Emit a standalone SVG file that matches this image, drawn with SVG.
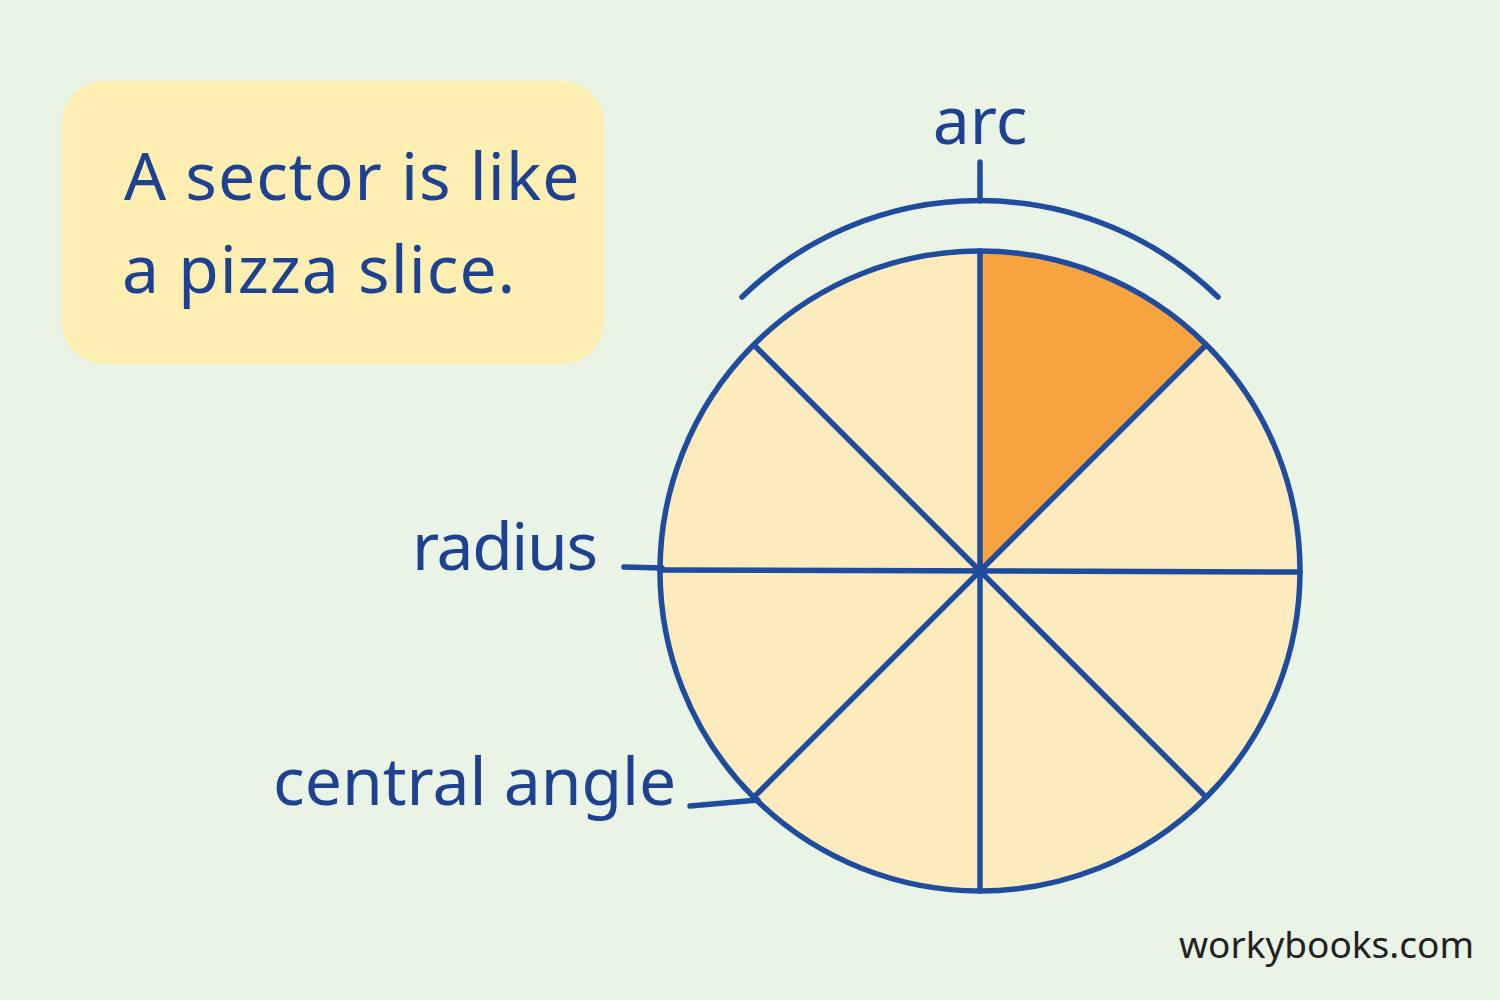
<svg xmlns="http://www.w3.org/2000/svg" width="1500" height="1000" viewBox="0 0 1500 1000">
<style>
.lbl{font-family:"Noto Sans","DejaVu Sans",sans-serif;fill:#1E4190;font-size:66px}
.ln{stroke:#1F4C9C;stroke-width:5.5;fill:none;stroke-linecap:round}
.slice{fill:#FCEBBC}
</style>
<rect width="1500" height="1000" fill="#EAF4E6"/>
<g id="note">
<rect x="62" y="81" width="542" height="283" rx="42" fill="#FDEFB2"/>
<text class="lbl" x="124" y="200" font-size="68" letter-spacing="1">A sector is like</text>
<text class="lbl" x="122" y="293" font-size="68" letter-spacing="1">a pizza slice.</text>
</g>
<g id="circle">
<circle cx="980" cy="571" r="320" class="slice"/>
<path d="M980,571 L980,251 A320,320 0 0 1 1206.3,344.7 Z" fill="#F7A33F"/>
<circle cx="980" cy="571" r="320" class="ln"/>
<line class="ln" x1="660" y1="570" x2="1300" y2="572"/>
<line class="ln" x1="980" y1="251" x2="980" y2="891"/>
<line class="ln" x1="754" y1="345" x2="1206" y2="797"/>
<line class="ln" x1="1206" y1="345" x2="754" y2="797"/>
<circle cx="980" cy="571" r="7" fill="#1F4C9C"/>
</g>
<g id="connectors">
<path class="ln" d="M742,297 A342,342 0 0 1 1218,297"/>
<line class="ln" x1="980" y1="201" x2="980" y2="162"/>
<line class="ln" x1="624" y1="567" x2="662" y2="568"/>
<line class="ln" x1="690" y1="806" x2="758" y2="800"/>
</g>
<g id="labels">
<text class="lbl" x="980" y="144" text-anchor="middle">arc</text>
<text class="lbl" x="412" y="570" textLength="186">radius</text>
<text class="lbl" x="273" y="805">central angle</text>
</g>
<text x="1474" y="958" text-anchor="end" font-family="Noto Sans, sans-serif" font-size="37" fill="#222">workybooks.com</text>
</svg>
